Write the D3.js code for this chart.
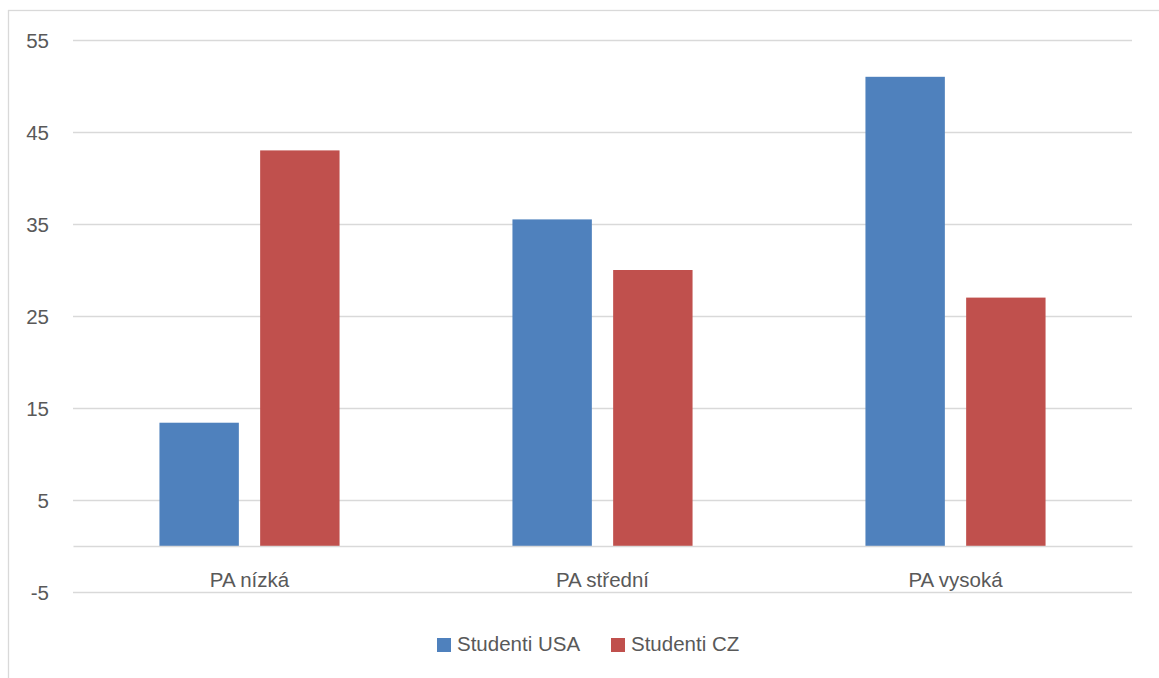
<!DOCTYPE html>
<html>
<head>
<meta charset="utf-8">
<script src="https://cdn.jsdelivr.net/npm/d3@7"></script>
<style>
  html, body { margin: 0; padding: 0; background: #ffffff; }
  svg { display: block; }
  text { font-family: "Liberation Sans", Arial, sans-serif; }
</style>
</head>
<body>
<svg id="chart" width="1159" height="678"></svg>
<script>
const categories = ["PA nízká", "PA střední", "PA vysoká"];
const seriesNames = ["Studenti USA", "Studenti CZ"];
const usaValues = [13.4, 35.5, 51];
const czValues = [43, 30, 27];
const yTickValues = [-5, 5, 15, 25, 35, 45, 55];
const colors = ["#4F81BD", "#C0504D"];

const W = 1159, H = 678;
const plot = { left: 73, right: 1132, top: 40, bottom: 592 };
const svg = d3.select("#chart");

// outer border
svg.append("rect")
  .attr("x", 8.5).attr("y", 10.5)
  .attr("width", 1170).attr("height", 690)
  .attr("fill", "none").attr("stroke", "#d9d9d9").attr("stroke-width", 1.3);

const y = d3.scaleLinear().domain([-5, 55]).range([plot.bottom, plot.top]);
const x0 = d3.scaleBand().domain(categories).range([plot.left, plot.right]).paddingInner(0).paddingOuter(0);
const x1 = d3.scaleBand().domain(seriesNames).range([0, x0.bandwidth()])
  .paddingInner(0.2115).paddingOuter(0.8585);

// y axis with gridlines
const yAxis = d3.axisLeft(y)
  .tickValues(yTickValues)
  .tickFormat(d => String(d))
  .tickSizeInner(-(plot.right - plot.left))
  .tickSizeOuter(0)
  .tickPadding(24);
const gy = svg.append("g").attr("transform", `translate(${plot.left},0)`).call(yAxis);
gy.select(".domain").remove();
gy.selectAll(".tick line").attr("stroke", "#d9d9d9").attr("stroke-width", 1.4);
gy.selectAll(".tick text")
  .attr("fill", "#595959")
  .style("font-size", "20.5px")
  .attr("dy", "0.36em");

// data table
const data = categories.map((c, i) => ({ cat: c, values: [usaValues[i], czValues[i]] }));

const groups = svg.append("g").selectAll("g")
  .data(data).join("g")
  .attr("transform", d => `translate(${x0(d.cat)},0)`);

groups.selectAll("rect")
  .data(d => d.values.map((v, j) => ({ name: seriesNames[j], v, j })))
  .join("rect")
  .attr("x", d => x1(d.name))
  .attr("width", x1.bandwidth())
  .attr("y", d => Math.min(y(d.v), y(0)))
  .attr("height", d => Math.abs(y(0) - y(d.v)))
  .attr("fill", d => colors[d.j]);

// category axis at zero
const xAxis = d3.axisBottom(x0).tickSize(0).tickPadding(26);
const gx = svg.append("g").attr("transform", `translate(0,${y(0)})`).call(xAxis);
gx.select(".domain").attr("stroke", "#d9d9d9").attr("stroke-width", 1.4);
gx.selectAll(".tick text")
  .attr("fill", "#595959")
  .style("font-size", "20.5px");

// legend
const legendPos = [437, 611];
const legend = svg.append("g").selectAll("g")
  .data(seriesNames).join("g")
  .attr("transform", (d, i) => `translate(${legendPos[i]},638)`);
legend.append("rect")
  .attr("width", 14).attr("height", 14)
  .attr("fill", (d, i) => colors[i]);
legend.append("text")
  .attr("x", 20).attr("y", 13)
  .attr("fill", "#595959")
  .style("font-size", "20.5px")
  .text(d => d);
</script>
</body>
</html>
